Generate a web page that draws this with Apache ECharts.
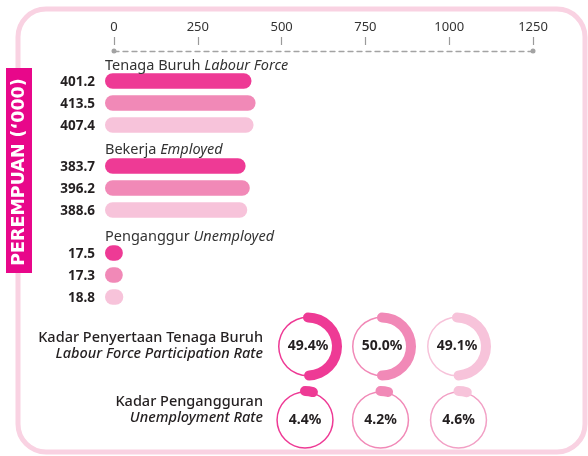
<!DOCTYPE html>
<html>
<head>
<meta charset="utf-8">
<script src="https://cdn.jsdelivr.net/npm/echarts@6/dist/echarts.min.js"></script>
<style>
html,body{margin:0;padding:0;background:#fff;}
#chart{width:588px;height:456px;}
</style>
</head>
<body>
<div id="chart"></div>
<script>
// ---- data ----
const periods = ['P1', 'P2', 'P3'];
const groupMalay = ['Tenaga Buruh', 'Bekerja', 'Penganggur'];
const groupEnglish = ['Labour Force', 'Employed', 'Unemployed'];
const labourForce = [401.2, 413.5, 407.4];
const employed = [383.7, 396.2, 388.6];
const unemployed = [17.5, 17.3, 18.8];
const axisTicks = [0, 250, 500, 750, 1000, 1250];
const participationRate = [49.4, 50.0, 49.1];
const unemploymentRate = [4.4, 4.2, 4.6];
const rateMalay = ['Kadar Penyertaan Tenaga Buruh', 'Kadar Pengangguran'];
const rateEnglish = ['Labour Force Participation Rate', 'Unemployment Rate'];
const sideTitle = "PEREMPUAN (\u2018000)";

// ---- style ----
const FONT = '"Noto Sans", sans-serif';
const colors = ['#ee3a95', '#f189b7', '#f7c3da'];
const thinColorsRow2 = ['#ee3a95', '#f189b7', '#f2a0c5'];
const textDark = '#231f20';
const groupValues = [labourForce, employed, unemployed];
const gridTops = [70, 155, 242];
const headerY = [66, 150, 237];
const GRID_LEFT = 114, GRID_RIGHT = 55, ROW_H = 66;
const BAR_H = 15.4, CAP_L = 9, CAP_R = 3;

const chart = echarts.init(document.getElementById('chart'), null, {renderer: 'canvas'});

const grids = gridTops.map(t => ({left: GRID_LEFT, right: GRID_RIGHT, top: t, height: ROW_H}));

const xAxes = [];
const yAxes = [];
gridTops.forEach((t, g) => {
  xAxes.push({
    type: 'value', gridIndex: g, min: axisTicks[0], max: axisTicks[axisTicks.length - 1],
    interval: axisTicks[1] - axisTicks[0], position: 'top', offset: 70 - 51,
    show: g === 0,
    axisLine: {show: true, symbol: ['circle', 'circle'], symbolSize: [5, 5],
      lineStyle: {color: '#a3a3a3', width: 1.3, type: [5, 4]}},
    axisTick: {show: false}, axisLabel: {show: false}, splitLine: {show: false}
  });
  yAxes.push({
    type: 'category', gridIndex: g, data: periods, inverse: true, show: false
  });
});
// tick + label axis (separated from dashed line)
xAxes.push({
  type: 'value', gridIndex: 0, min: axisTicks[0], max: axisTicks[axisTicks.length - 1],
  interval: axisTicks[1] - axisTicks[0], position: 'top', offset: 70 - 45,
  axisLine: {show: false},
  axisTick: {show: true, length: 8, lineStyle: {color: '#9a9a9a', width: 1.2}},
  axisLabel: {show: true, margin: 11, color: '#333', fontSize: 13, fontFamily: FONT,
    formatter: v => String(v)},
  splitLine: {show: false}
});

function renderBar(params, api) {
  const v = api.value(0), c = api.value(1);
  const p0 = api.coord([0, c]);
  const p1 = api.coord([v, c]);
  const x = p0[0] - CAP_L;
  const w = (p1[0] - p0[0]) + CAP_L + CAP_R;
  return {
    type: 'group',
    children: [
      {type: 'rect', shape: {x: x, y: p0[1] - BAR_H / 2, width: w, height: BAR_H, r: BAR_H / 2},
        style: {fill: colors[c]}},
      {type: 'text', style: {text: v.toFixed(1), x: p0[0] - 19, y: p0[1] + 1, align: 'right',
        verticalAlign: 'middle', font: 'bold 13.5px ' + FONT, fill: textDark}}
    ]
  };
}

const series = groupValues.map((vals, g) => ({
  type: 'custom', xAxisIndex: g, yAxisIndex: g,
  renderItem: renderBar,
  data: vals.map((v, i) => [v, i]),
  silent: true
}));

// gauges
const row1 = {cx: [308, 382, 457], cy: 346.5, rThin: 30};
const row2 = {cx: [305, 380.5, 458.5], cy: 420, rThin: 28.7};
function gaugePair(value, cx, cy, rThin, color, thinColor) {
  const base = {
    type: 'gauge', center: [cx, cy], startAngle: 90, endAngle: -270, min: 0, max: 100,
    pointer: {show: false}, axisTick: {show: false}, splitLine: {show: false},
    axisLabel: {show: false}, title: {show: false}, silent: true, animation: false
  };
  return [
    Object.assign({}, base, {
      radius: rThin,
      axisLine: {show: true, lineStyle: {width: 1.5, color: [[1, thinColor]]}},
      progress: {show: false}, detail: {show: false}, data: [{value: value}]
    }),
    Object.assign({}, base, {
      radius: 34,
      axisLine: {show: false, lineStyle: {width: 10}},
      progress: {show: true, width: 10, roundCap: true, itemStyle: {color: color}},
      detail: {show: true, offsetCenter: [0, 0], valueAnimation: false,
        formatter: v => v.toFixed(1) + '%', fontSize: 14, fontWeight: 'bold',
        fontFamily: FONT, color: textDark},
      data: [{value: value}]
    })
  ];
}
participationRate.forEach((v, i) => {
  series.push(...gaugePair(v, row1.cx[i], row1.cy, row1.rThin, colors[i], colors[i]));
});
unemploymentRate.forEach((v, i) => {
  series.push(...gaugePair(v, row2.cx[i], row2.cy, row2.rThin, colors[i], thinColorsRow2[i]));
});

// graphics
const graphic = [
  {type: 'rect', shape: {x: 18, y: 9, width: 567, height: 443, r: 28}, z: -10,
    style: {fill: 'none', stroke: '#f9d2e2', lineWidth: 5}},
  {type: 'rect', shape: {x: 6, y: 68, width: 26, height: 205}, z: 5,
    style: {fill: '#e8078a'}},
  {type: 'text', x: 19.5, y: 172, rotation: Math.PI / 2, z: 6,
    style: {text: sideTitle, align: 'center', verticalAlign: 'middle',
      font: 'bold 17.5px "DejaVu Sans", sans-serif', fill: '#fff'}}
];
groupMalay.forEach((m, g) => {
  graphic.push({type: 'text', x: 105, y: headerY[g], z: 5,
    style: {text: '{a|' + m + ' }{b|' + groupEnglish[g] + '}', verticalAlign: 'middle',
      rich: {a: {fontFamily: FONT, fontSize: 14.5, fill: '#333', color: '#333'},
             b: {fontFamily: FONT, fontSize: 14.5, fontStyle: 'italic', fill: '#333', color: '#333'}}}});
});
const rateY = [[338, 353.5], [402, 417.5]];
rateMalay.forEach((m, r) => {
  graphic.push({type: 'text', x: 263, y: rateY[r][0], z: 5,
    style: {text: m, align: 'right', verticalAlign: 'middle',
      font: '500 14.5px ' + FONT, fill: textDark}});
  graphic.push({type: 'text', x: 263, y: rateY[r][1], z: 5,
    style: {text: rateEnglish[r], align: 'right', verticalAlign: 'middle',
      font: 'italic 500 14.5px ' + FONT, fill: textDark}});
});

chart.setOption({
  animation: false,
  grid: grids,
  xAxis: xAxes,
  yAxis: yAxes,
  series: series,
  graphic: graphic
});
</script>
</body>
</html>
